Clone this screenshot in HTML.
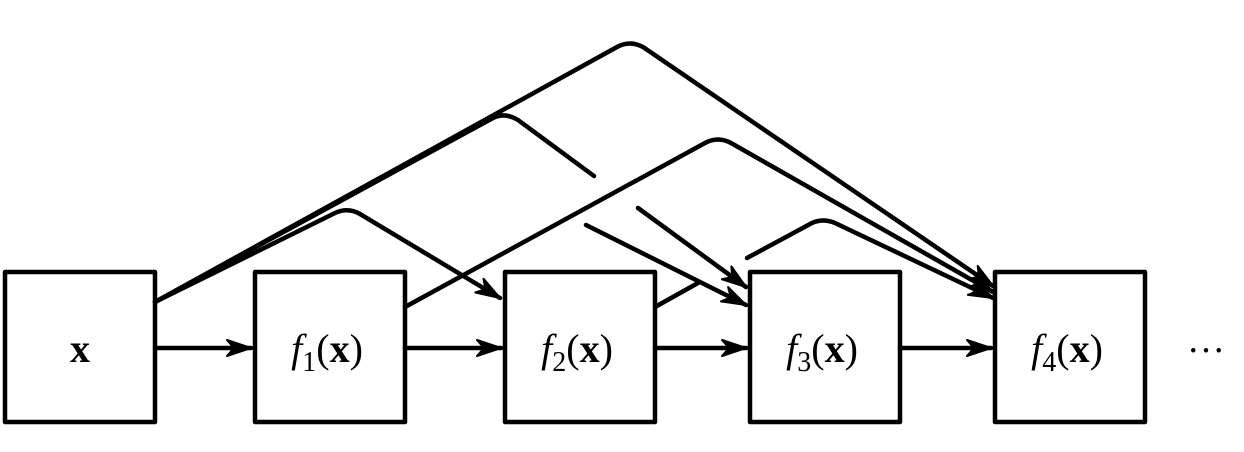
<!DOCTYPE html>
<html><head><meta charset="utf-8"><style>
html,body{margin:0;padding:0;background:#fff;}
svg{display:block;}
text{font-family:"Liberation Serif","DejaVu Serif",serif;fill:#000;}
</style></head><body>
<svg width="1244" height="452" viewBox="0 0 1244 452">
<defs>
<marker id="ah" viewBox="0 0 28 20" refX="26" refY="10" markerWidth="28" markerHeight="20" markerUnits="userSpaceOnUse" orient="auto">
<path d="M2,2 L26,10 L2,18 L9,10 Z" fill="#000" stroke="#000" stroke-width="2" stroke-linejoin="round"/>
</marker>
</defs>
<g fill="none" stroke="#000" stroke-width="4.5" stroke-linejoin="round" stroke-linecap="round">
<rect x="5" y="272" width="150" height="150"/>
<rect x="255" y="272" width="150" height="150"/>
<rect x="505" y="272" width="150" height="150"/>
<rect x="750" y="272" width="150" height="150"/>
<rect x="995" y="272" width="150" height="150"/>
<line x1="155" y1="348" x2="251" y2="348" marker-end="url(#ah)"/>
<line x1="405" y1="348" x2="501" y2="348" marker-end="url(#ah)"/>
<line x1="655" y1="348" x2="746" y2="348" marker-end="url(#ah)"/>
<line x1="900" y1="348" x2="991" y2="348" marker-end="url(#ah)"/>
<path d="M155,302 L617,47 Q630,40 643,47 L993,286" marker-end="url(#ah)"/>
<path d="M155,302 L493,118 Q505,112 518,120 L594,176"/>
<path d="M638,208 L746,287" marker-end="url(#ah)"/>
<path d="M155,302 L335,213 Q348,207 360,214 L500,298" marker-end="url(#ah)"/>
<path d="M405,307 L705,143 Q718,136 731,143 L993,292" marker-end="url(#ah)"/>
<path d="M655,307 L698,283"/>
<path d="M747,258 L812,223 Q823,218 835,223 L993,298" marker-end="url(#ah)"/>
<path d="M586,225 L746,305" marker-end="url(#ah)"/>
</g>
<text x="80" y="362" font-size="40" font-weight="bold" text-anchor="middle">x</text>
<text x="327" y="362" font-size="40" text-anchor="middle"><tspan font-style="italic">f</tspan><tspan font-size="28" dy="9">1</tspan><tspan dy="-9">(</tspan><tspan font-weight="bold">x</tspan>)</text>
<text x="577" y="362" font-size="40" text-anchor="middle"><tspan font-style="italic">f</tspan><tspan font-size="28" dy="9">2</tspan><tspan dy="-9">(</tspan><tspan font-weight="bold">x</tspan>)</text>
<text x="822" y="362" font-size="40" text-anchor="middle"><tspan font-style="italic">f</tspan><tspan font-size="28" dy="9">3</tspan><tspan dy="-9">(</tspan><tspan font-weight="bold">x</tspan>)</text>
<text x="1067" y="362" font-size="40" text-anchor="middle"><tspan font-style="italic">f</tspan><tspan font-size="28" dy="9">4</tspan><tspan dy="-9">(</tspan><tspan font-weight="bold">x</tspan>)</text>
<text x="1206" y="352" font-size="38" text-anchor="middle">…</text>
</svg>
</body></html>
